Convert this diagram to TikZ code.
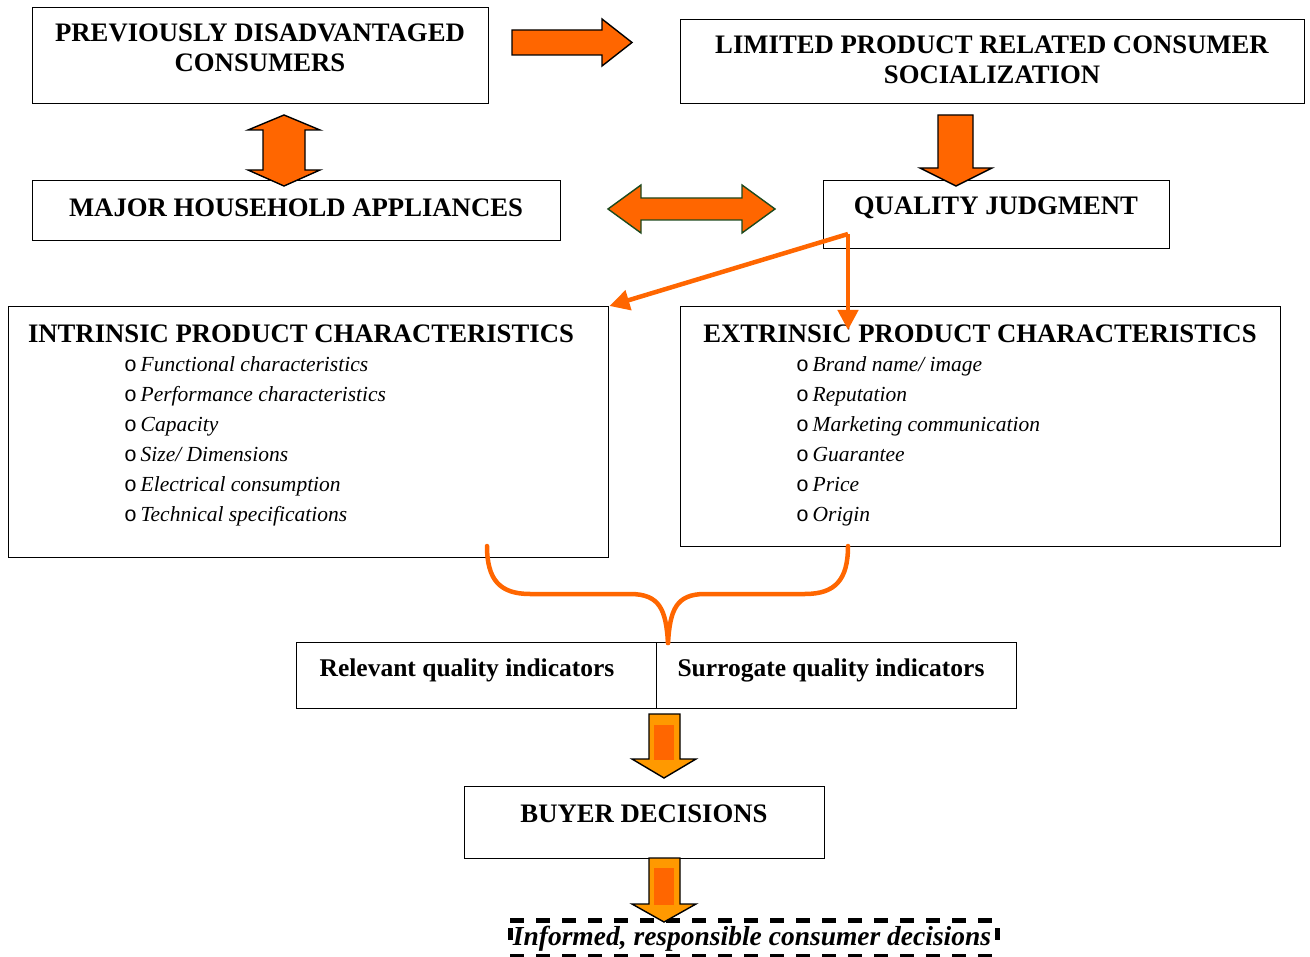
\documentclass[tikz,border=0pt]{standalone}
\usepackage{fontspec}
\setmainfont{Liberation Serif}
\setmonofont{Liberation Mono}
\usetikzlibrary{arrows.meta}
\definecolor{org}{HTML}{FF6600}
\definecolor{yel}{HTML}{FF9900}
\definecolor{dgreen}{HTML}{1E4A1E}
\newcommand{\bul}{{\ttfamily o}}
\tikzset{
  box/.style={draw=black, line width=1.4pt, rectangle, inner sep=0pt, anchor=north west},
  captxt/.style={font=\fontsize{26.7}{30}\selectfont\bfseries, align=center, inner sep=0pt, anchor=center},
  itemtxt/.style={font=\fontsize{21.5}{30}\selectfont, align=left, inner sep=0pt, anchor=north west},
  blockarrow/.style={fill=org, draw=black, line width=1.4pt, line join=miter},
  thinarrow/.style={draw=org, line width=4.5pt, -{Triangle[length=20pt,width=20pt]}},
  bracepath/.style={draw=org, line width=4.5pt, line cap=round},
  yelarrow/.style={fill=yel, draw=black, line width=1.4pt}
}
\begin{document}
\begin{tikzpicture}[x=1pt,y=-1pt]
\useasboundingbox (0,0) rectangle (1310,957);
% boxes
\node[box, minimum width=456pt, minimum height=96pt] (b1) at (32,7) {};
\node[captxt] (t1) at (260,48) {PREVIOUSLY DISADVANTAGED\\CONSUMERS};
\node[box, minimum width=624pt, minimum height=84pt] (b2) at (680,19) {};
\node[captxt] (t2) at (992,60) {LIMITED PRODUCT RELATED CONSUMER\\SOCIALIZATION};
\node[box, minimum width=528pt, minimum height=60pt] (b3) at (32,180) {};
\node[captxt] (t3) at (296,208) {MAJOR HOUSEHOLD APPLIANCES};
\node[box, minimum width=346pt, minimum height=68pt] (b4) at (823,180) {};
\node[captxt] (t4) at (996,208) {QUALITY JUDGMENT};
\node[box, minimum width=600pt, minimum height=251pt] (b5) at (8,306) {};
\node[captxt] (t5) at (301,334) {INTRINSIC PRODUCT CHARACTERISTICS};
\node[itemtxt] (i5) at (124,356) {\bul\,\textit{Functional characteristics}\\\bul\,\textit{Performance characteristics}\\\bul\,\textit{Capacity}\\\bul\,\textit{Size/ Dimensions}\\\bul\,\textit{Electrical consumption}\\\bul\,\textit{Technical specifications}};
\node[box, minimum width=600pt, minimum height=240pt] (b6) at (680,306) {};
\node[captxt] (t6) at (980,334) {EXTRINSIC PRODUCT CHARACTERISTICS};
\node[itemtxt] (i6) at (796,356) {\bul\,\textit{Brand name/ image}\\\bul\,\textit{Reputation}\\\bul\,\textit{Marketing communication}\\\bul\,\textit{Guarantee}\\\bul\,\textit{Price}\\\bul\,\textit{Origin}};
\node[box, minimum width=360pt, minimum height=66pt] (b7) at (296,642) {};
\node[captxt, font=\fontsize{25.5}{28}\selectfont\bfseries] (t7) at (467,670) {Relevant quality indicators};
\node[box, minimum width=360pt, minimum height=66pt] (b8) at (656,642) {};
\node[captxt, font=\fontsize{25.5}{28}\selectfont\bfseries] (t8) at (831,670) {Surrogate quality indicators};
\node[box, minimum width=360pt, minimum height=72pt] (b9) at (464,786) {};
\node[captxt] (t9) at (644,814) {BUYER DECISIONS};
\node[box, draw=none, minimum width=486pt, minimum height=35pt] (b10) at (510,920) {};
\draw[black, line width=5pt, dash pattern=on 14pt off 12pt] (b10.north west) -- (b10.north east);
\draw[black, line width=5pt, dash pattern=on 14pt off 12pt] (b10.south west) -- (b10.south east);
\draw[black, line width=5pt] ([yshift=-8pt]b10.north west) -- ([yshift=-20pt]b10.north west);
\draw[black, line width=5pt] ([yshift=-8pt]b10.north east) -- ([yshift=-20pt]b10.north east);
\node[captxt, font=\fontsize{27.5}{30}\selectfont\bfseries\itshape] (t10) at (752,939) {Informed, responsible consumer decisions};
% block arrow right (b1 -> b2)
\draw[blockarrow] (512,30) -- (602,30) -- (602,19) -- (632,42.5) -- (602,66) -- (602,55) -- (512,55) -- cycle;
% double vertical (b1 <-> b3)
\draw[blockarrow] (284,115) -- (320,130) -- (305,130) -- (305,170) -- (320,170) -- (284,186) -- (248,170) -- (263,170) -- (263,130) -- (248,130) -- cycle;
% double horizontal (b3 <-> b4)
\draw[blockarrow, draw=dgreen] (608,209) -- (641,185) -- (641,198) -- (742,198) -- (742,185) -- (775,209) -- (742,233) -- (742,220) -- (641,220) -- (641,233) -- cycle;
% down (b2 -> b4)
\draw[blockarrow] (938,115) -- (973,115) -- (973,168) -- (992,168) -- (956,186) -- (920,168) -- (938,168) -- cycle;
% thin arrows from quality judgment
\coordinate (qj) at (848,234);
\draw[thinarrow] (qj) -- (b5.north east);
\draw[thinarrow] (qj) -- (848,330);
% brace
\coordinate (bl) at (487,546);
\coordinate (br) at (848,546);
\coordinate (bm) at (668,643);
\draw[bracepath] (bl) .. controls (487,580) and (500,594) .. (530,594) -- (630,594) .. controls (660,594) and (666,610) .. (bm);
\draw[bracepath] (br) .. controls (848,580) and (835,594) .. (805,594) -- (705,594) .. controls (676,594) and (670,610) .. (bm);
% yellow arrows
\draw[yelarrow] (649,714) -- (680,714) -- (680,759) -- (696,759) -- (664,778) -- (632,759) -- (649,759) -- cycle;
\fill[org] (654,725) rectangle (674,760);
\draw[yelarrow] (649,858) -- (680,858) -- (680,904) -- (696,904) -- (664,922) -- (632,904) -- (649,904) -- cycle;
\fill[org] (654,868) rectangle (674,905);
\end{tikzpicture}
\end{document}
